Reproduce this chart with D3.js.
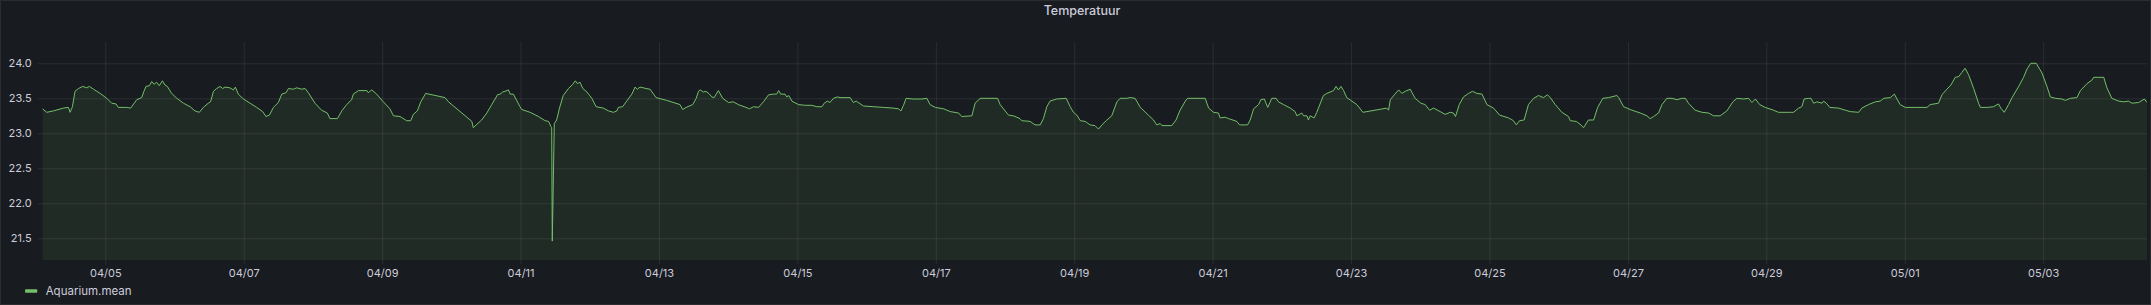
<!DOCTYPE html>
<html><head><meta charset="utf-8">
<script src="https://cdn.jsdelivr.net/npm/d3@7"></script>
<style>
html,body{margin:0;padding:0;background:#181b1f;overflow:hidden;}
svg{display:block;}
text{font-family:Inter,"Noto Sans",sans-serif;}
</style></head><body>
<svg id="chart" width="2151" height="305"></svg>
<script>
const chartTitle = "Temperatuur";
const seriesName = "Aquarium.mean";
const startDate = "2023-04-04T00:00:00Z";
const xDomainHours = [2.15, 732.0];
const yDomain = [21.19, 24.3];
const yTickValues = [21.5, 22.0, 22.5, 23.0, 23.5, 24.0];
const xTickLabels = ["04/05","04/07","04/09","04/11","04/13","04/15","04/17","04/19","04/21","04/23","04/25","04/27","04/29","05/01","05/03"];

const hoursFromStart = [
2.2,3.7,6.0,9.5,11.2,11.8,12.6,13.5,14.7,16.2,17.5,18.5,19.9,22.2,24.5,26.2,27.7,28.5,31.4,32.8,34.9,36.6,37.4,38.1,39.3,40.1,40.9,41.8,42.7,43.8,44.7,45.5,47.0,48.8,51.1,53.4,55.1,56.6,58.0,59.7,60.5,61.5,62.6,63.8,64.7,65.5,67.2,68.4,69.1,70.1,71.9,74.2,76.5,78.6,79.7,80.9,82.3,84.0,85.2,86.7,87.5,89.2,90.4,92.1,93.3,94.4,96.7,99.0,101.0,101.9,104.5,106.0,107.7,109.4,110.0,111.8,114.7,115.2,116.4,118.1,120.4,122.7,
123.9,126.2,128.5,129.9,130.8,132.2,133.4,135.1,141.8,143.0,151.1,151.6,152.6,154.5,156.3,158.0,160.0,160.9,161.8,162.6,163.8,164.4,165.5,167.8,168.4,171.3,174.2,176.5,177.7,178.5,178.8,179.0,179.7,180.5,181.5,182.8,184.6,186.1,187.0,187.7,188.6,189.6,191.0,192.7,194.2,196.7,198.5,200.2,201.4,201.9,203.4,204.8,206.6,207.7,208.5,209.4,210.6,211.5,212.9,215.0,218.7,223.3,224.2,225.4,227.7,228.9,229.7,230.3,231.4,232.3,233.5,234.3,235.1,236.6,238.1,240.1,241.8,243.5,
246.2,247.4,248.8,250.5,252.2,254.0,255.7,256.8,257.5,258.2,259.7,260.3,261.0,262.1,264.4,266.7,269.0,270.7,272.5,273.3,274.4,275.3,276.5,277.9,278.8,282.3,283.4,284.4,286.9,290.4,293.8,297.3,299.0,299.9,300.8,301.7,304.2,307.1,308.9,310.0,311.8,314.7,317.0,319.9,321.0,324.5,325.0,325.6,327.4,333.4,334.3,337.2,338.9,341.2,341.8,344.7,346.4,348.2,349.3,350.5,351.6,353.9,357.2,358.6,359.7,360.9,362.1,363.8,365.5,
367.2,368.4,369.6,371.3,373.0,374.8,375.9,378.2,379.4,381.1,382.9,385.7,387.5,388.6,389.8,390.4,393.8,395.3,396.7,398.5,399.3,405.4,406.6,408.3,410.0,410.6,412.3,413.5,416.4,417.3,420.1,421.0,422.2,423.9,424.7,425.9,427.1,428.5,430.0,430.8,432.6,434.9,436.6,437.2,438.9,439.5,440.7,441.2,441.8,443.2,444.1,446.4,447.6,449.9,450.8,451.6,452.5,453.4,454.5,455.9,458.0,460.1,468.4,469.0,469.6,471.0,472.5,473.6,474.8,476.5,478.2,480.2,481.7,483.2,484.6,486.9,
488.6,490.4,491.5,492.2,493.5,495.0,496.7,498.1,499.6,501.4,503.1,505.4,507.5,510.6,512.3,513.3,514.4,516.0,517.5,519.3,521.0,522.7,524.1,525.1,526.8,529.1,531.4,532.0,534.1,535.7,536.6,538.3,540.1,541.5,543.3,545.3,548.2,548.8,550.5,553.4,556.3,558.6,559.7,560.9,562.6,563.8,565.5,567.3,569.0,570.7,571.9,573.0,575.3,577.7,580.0,581.7,584.0,586.3,588.4,589.8,592.1,593.8,595.0,596.2,597.7,599.6,602.5,604.2,608.3,
609.4,611.2,612.3,613.1,614.6,615.5,616.4,617.5,619.3,619.8,620.8,622.0,625.0,627.4,629.1,632.0,633.1,635.4,637.8,639.5,640.7,643.0,644.4,645.3,646.4,648.2,652.2,655.7,656.8,659.7,660.9,662.6,664.0,665.5,666.7,667.8,668.9,670.1,671.9,673.6,674.2,676.5,678.8,680.5,681.3,682.5,684.0,685.2,687.5,689.2,690.4,691.7,693.6,695.6,697.3,698.5,700.2,702.5,703.7,705.4,707.7,708.9,711.2,712.9,713.5,717.0,718.1,719.8,722.2,723.9,725.6,726.8,729.1,731.1,732.0
];
const temperature = [
23.35,23.30,23.32,23.36,23.37,23.30,23.38,23.60,23.64,23.67,23.65,23.67,23.63,23.57,23.50,23.43,23.42,23.37,23.37,23.36,23.48,23.51,23.60,23.67,23.68,23.74,23.70,23.73,23.68,23.75,23.69,23.67,23.57,23.50,23.43,23.38,23.32,23.30,23.37,23.43,23.45,23.60,23.64,23.67,23.64,23.66,23.65,23.62,23.66,23.56,23.49,23.43,23.37,23.31,23.24,23.26,23.37,23.44,23.56,23.58,23.64,23.63,23.65,23.63,23.64,23.58,23.43,23.33,23.29,23.21,23.21,23.32,23.41,23.48,23.56,23.61,23.61,23.58,23.62,23.56,23.45,23.35,
23.25,23.24,23.18,23.18,23.27,23.32,23.45,23.57,23.51,23.45,23.17,23.08,23.12,23.19,23.29,23.41,23.55,23.56,23.59,23.60,23.62,23.56,23.56,23.38,23.34,23.30,23.24,23.18,23.17,23.10,23.08,21.46,23.14,23.19,23.36,23.54,23.64,23.70,23.75,23.71,23.73,23.64,23.59,23.50,23.38,23.36,23.32,23.30,23.32,23.37,23.38,23.46,23.56,23.66,23.63,23.66,23.65,23.64,23.63,23.51,23.47,23.41,23.34,23.37,23.41,23.50,23.60,23.62,23.59,23.60,23.56,23.52,23.51,23.61,23.50,23.44,23.45,23.41,
23.37,23.35,23.38,23.37,23.45,23.55,23.56,23.56,23.61,23.56,23.56,23.52,23.54,23.46,23.41,23.40,23.40,23.38,23.38,23.43,23.46,23.44,23.50,23.52,23.51,23.51,23.44,23.46,23.39,23.38,23.37,23.36,23.35,23.32,23.40,23.50,23.49,23.49,23.50,23.41,23.37,23.35,23.31,23.29,23.24,23.25,23.33,23.43,23.50,23.50,23.41,23.26,23.25,23.21,23.18,23.17,23.12,23.12,23.21,23.38,23.46,23.49,23.50,23.38,23.30,23.26,23.18,23.17,23.12,
23.11,23.06,23.12,23.19,23.25,23.45,23.50,23.50,23.51,23.50,23.37,23.26,23.19,23.12,23.14,23.11,23.11,23.19,23.33,23.46,23.50,23.50,23.36,23.30,23.29,23.22,23.23,23.21,23.17,23.12,23.12,23.19,23.35,23.41,23.48,23.49,23.37,23.50,23.50,23.45,23.41,23.36,23.31,23.25,23.29,23.25,23.25,23.19,23.25,23.22,23.30,23.54,23.57,23.61,23.67,23.62,23.67,23.61,23.51,23.47,23.41,23.30,23.36,23.33,23.48,23.55,23.62,23.57,23.60,23.63,23.50,23.43,23.41,23.33,23.36,23.31,
23.27,23.30,23.29,23.24,23.41,23.52,23.57,23.60,23.57,23.56,23.41,23.36,23.26,23.22,23.18,23.12,23.18,23.19,23.41,23.50,23.54,23.51,23.55,23.51,23.41,23.30,23.24,23.18,23.17,23.12,23.08,23.19,23.19,23.37,23.50,23.51,23.54,23.51,23.38,23.33,23.29,23.25,23.21,23.24,23.29,23.41,23.50,23.50,23.48,23.50,23.50,23.43,23.33,23.30,23.29,23.25,23.25,23.32,23.45,23.50,23.49,23.50,23.44,23.49,23.41,23.37,23.33,23.30,23.30,
23.30,23.36,23.38,23.49,23.50,23.50,23.43,23.45,23.43,23.46,23.43,23.37,23.36,23.33,23.31,23.30,23.36,23.41,23.45,23.46,23.50,23.51,23.56,23.49,23.41,23.37,23.37,23.37,23.41,23.43,23.55,23.63,23.69,23.80,23.81,23.87,23.93,23.84,23.64,23.43,23.37,23.37,23.38,23.42,23.36,23.30,23.41,23.51,23.67,23.80,23.92,24.00,24.00,23.86,23.67,23.52,23.50,23.49,23.47,23.50,23.51,23.61,23.71,23.76,23.80,23.80,23.65,23.50,23.46,23.45,23.46,23.43,23.44,23.49,23.44
];

const W = 2151, H = 305;
const plot = {left: 42.3, right: 2147, top: 42.3, bottom: 260};
const t0 = new Date(startDate).getTime();
const toDate = h => new Date(t0 + h * 3600e3);
const data = hoursFromStart.map((h, i) => ({t: toDate(h), v: temperature[i]}));

const x = d3.scaleUtc().domain(xDomainHours.map(toDate)).range([plot.left, plot.right]);
const y = d3.scaleLinear().domain(yDomain).range([plot.bottom, plot.top]);

const svg = d3.select("#chart");
const textCol = "rgb(204,204,220)";
const gridCol = "rgba(204,204,220,0.10)";

svg.append("rect").attr("x", 0.5).attr("y", 0.5).attr("width", W - 1).attr("height", H - 1)
  .attr("fill", "#181b1f").attr("stroke", "rgba(204,204,220,0.10)");

svg.append("text").attr("x", 1082).attr("y", 10).attr("text-anchor", "middle")
  .attr("dominant-baseline", "central").attr("fill", textCol)
  .attr("font-size", 12.5).attr("font-weight", 500).text(chartTitle);

// y grid + axis
const yAxis = d3.axisLeft(y).tickValues(yTickValues).tickFormat(d3.format(".1f"))
  .tickSize(plot.right - plot.left + 4.6).tickPadding(6);
const gy = svg.append("g").attr("transform", `translate(${plot.right},0)`).call(yAxis);
gy.select(".domain").remove();
gy.selectAll(".tick line").attr("stroke", gridCol);
gy.selectAll(".tick text").attr("fill", textCol).attr("font-size", 11)
  .attr("font-family", "Inter, sans-serif");

// x grid + axis
const parseTick = d3.utcParse("%Y/%m/%d");
const xTickDates = xTickLabels.map(l => parseTick("2023/" + l));
const xAxis = d3.axisBottom(x).tickValues(xTickDates)
  .tickFormat((d, i) => xTickLabels[i])
  .tickSize(plot.bottom - plot.top + 4).tickPadding(5);
const gx = svg.append("g").attr("transform", `translate(0,${plot.top})`).call(xAxis);
gx.select(".domain").remove();
gx.selectAll(".tick line").attr("stroke", gridCol);
gx.selectAll(".tick text").attr("fill", textCol).attr("font-size", 11)
  .attr("font-family", "Inter, sans-serif");

// area + line
const clip = svg.append("clipPath").attr("id", "clip").append("rect")
  .attr("x", plot.left).attr("y", plot.top).attr("width", plot.right - plot.left).attr("height", plot.bottom - plot.top);
const area = d3.area().x(d => x(d.t)).y0(plot.bottom).y1(d => y(d.v));
const line = d3.line().x(d => x(d.t)).y(d => y(d.v));
const g = svg.append("g").attr("clip-path", "url(#clip)");
g.append("path").datum(data).attr("d", area).attr("fill", "#73BF69").attr("fill-opacity", 0.1);
g.append("path").datum(data).attr("d", line).attr("fill", "none").attr("stroke", "#73BF69")
  .attr("stroke-width", 1).attr("stroke-linejoin", "round");

// legend
svg.append("rect").attr("x", 25).attr("y", 289.3).attr("width", 12.3).attr("height", 3.5)
  .attr("rx", 1).attr("fill", "#73BF69");
svg.append("text").attr("x", 45.7).attr("y", 290.8).attr("dominant-baseline", "central")
  .attr("fill", textCol).attr("font-size", 11.5).text(seriesName);
</script>
</body></html>
